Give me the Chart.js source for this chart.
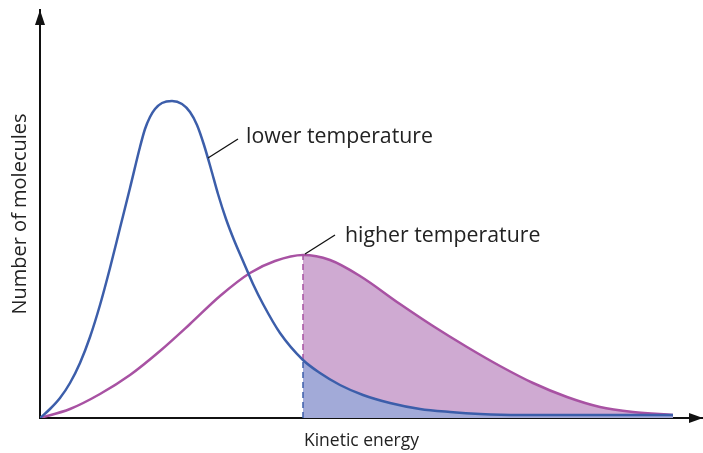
<!DOCTYPE html>
<html>
<head>
<meta charset="utf-8">
<script src="https://cdn.jsdelivr.net/npm/chart.js@4/dist/chart.umd.min.js"></script>
<style>
  html, body { margin: 0; padding: 0; background: #fff; }
</style>
</head>
<body>
<canvas id="myChart" width="703" height="453"></canvas>
<script>
// Curves (energy units along x, molecule count along y)
const lowTempX = [0, 10, 20, 30, 40, 50, 60, 70, 80, 90, 100, 105, 110, 115, 122, 132, 142, 150, 157, 164, 171, 178, 186, 194, 203, 213, 223, 240, 263, 280, 300, 323, 350, 380, 410, 440, 480, 560, 633];
const lowTempY = [0, 9, 20, 35, 55, 81, 113, 150, 190, 230, 271, 289, 301, 309, 315, 317, 314, 306, 293, 273, 249, 224, 199, 178, 157, 134, 114, 85, 58, 45, 33, 23, 15, 9, 6, 4, 3, 3, 3];

const highTempX = [0, 30, 60, 90, 120, 150, 180, 210, 235, 263, 290, 320, 360, 393, 427, 460, 493, 527, 560, 593, 633];
const highTempY = [0, 9, 24, 43, 67, 94, 122, 145, 157, 163, 158, 142, 114, 92, 71, 52, 35, 21, 11, 6, 3];

// energy where the shaded region starts
const cutoff = 263;

// curve labels: text, where the leader line starts (on the curve), where it ends
const labelText = ["lower temperature", "higher temperature"];
const labelFrom = [[168, 260], [265, 164]];
const labelTo = [[198, 279], [295, 183]];

const blueLine = "rgb(60, 94, 170)";
const purpleLine = "rgb(168, 82, 163)";
const blueFill = "rgb(162, 170, 216)";
const purpleFill = "rgb(207, 170, 210)";

function toPoints(xs, ys) {
  return xs.map((x, i) => ({ x: x, y: ys[i] }));
}

const lowPts = toPoints(lowTempX, lowTempY);
const highPts = toPoints(highTempX, highTempY);
const lowTail = lowPts.filter((p) => p.x >= cutoff);
const highTail = highPts.filter((p) => p.x >= cutoff);
const lowAtCut = lowTail[0].y;
const highAtCut = highTail[0].y;

// Arrows on the axes, x axis title and the curve labels
const extras = {
  id: "extras",
  afterDraw(chart) {
    const ctx = chart.ctx;
    const a = chart.chartArea;
    const xs = chart.scales.x;
    const ys = chart.scales.y;
    ctx.save();
    ctx.fillStyle = "#111";
    // y arrow
    ctx.beginPath();
    ctx.moveTo(a.left, a.top);
    ctx.lineTo(a.left - 5, a.top + 15);
    ctx.lineTo(a.left + 5, a.top + 15);
    ctx.closePath();
    ctx.fill();
    // x arrow
    ctx.beginPath();
    ctx.moveTo(a.right, a.bottom);
    ctx.lineTo(a.right - 14, a.bottom - 5);
    ctx.lineTo(a.right - 14, a.bottom + 5);
    ctx.closePath();
    ctx.fill();

    ctx.fillStyle = "#222";
    ctx.textBaseline = "middle";
    ctx.textAlign = "center";
    ctx.font = '17.5px "Open Sans"';
    ctx.fillText("Kinetic energy", (a.left + a.right) / 2 - 10, a.bottom + 23);

    // labels
    ctx.strokeStyle = "#111";
    ctx.lineWidth = 1.3;
    ctx.font = '21.3px "Open Sans"';
    ctx.textAlign = "left";
    labelText.forEach((t, i) => {
      const x1 = xs.getPixelForValue(labelFrom[i][0]);
      const y1 = ys.getPixelForValue(labelFrom[i][1]);
      const x2 = xs.getPixelForValue(labelTo[i][0]);
      const y2 = ys.getPixelForValue(labelTo[i][1]);
      ctx.beginPath();
      ctx.moveTo(x1, y1);
      ctx.lineTo(x2, y2);
      ctx.stroke();
      ctx.fillText(t, x2 + 8 + 2 * i, y2 - 2 + 3 * i);
    });
    ctx.restore();
  },
};

const ctx = document.querySelector("#myChart").getContext("2d");

const myChart = new Chart(ctx, {
  type: "line",
  data: {
    datasets: [
      {
        data: lowPts,
        borderColor: blueLine,
        borderWidth: 2.5,
        pointRadius: 0,
        fill: false,
        cubicInterpolationMode: "monotone",
        order: 0,
      },
      {
        data: highPts,
        borderColor: purpleLine,
        borderWidth: 2.5,
        pointRadius: 0,
        fill: false,
        cubicInterpolationMode: "monotone",
        order: 1,
      },
      {
        // dashed edge, purple part
        data: [{ x: cutoff, y: lowAtCut }, { x: cutoff, y: highAtCut }],
        borderColor: purpleLine,
        borderWidth: 1.5,
        borderDash: [6, 4],
        pointRadius: 0,
        tension: 0,
        fill: false,
        order: 2,
      },
      {
        // dashed edge, blue part
        data: [{ x: cutoff, y: 0 }, { x: cutoff, y: lowAtCut }],
        borderColor: blueLine,
        borderWidth: 1.5,
        borderDash: [6, 4],
        pointRadius: 0,
        tension: 0,
        fill: false,
        order: 3,
      },
      {
        data: lowTail,
        borderWidth: 0,
        borderColor: "rgba(0,0,0,0)",
        backgroundColor: blueFill,
        pointRadius: 0,
        fill: "origin",
        cubicInterpolationMode: "monotone",
        order: 4,
      },
      {
        data: highTail,
        borderWidth: 0,
        borderColor: "rgba(0,0,0,0)",
        backgroundColor: purpleFill,
        pointRadius: 0,
        fill: "origin",
        cubicInterpolationMode: "monotone",
        order: 5,
      },
    ],
  },
  options: {
    responsive: false,
    animation: false,
    devicePixelRatio: 1,
    layout: {
      padding: { top: 10, right: 0, bottom: 0, left: 0 },
    },
    scales: {
      x: {
        type: "linear",
        min: 0,
        max: 663,
        grid: { display: false, drawTicks: false },
        ticks: { display: false },
        border: { color: "#111", width: 2 },
        afterFit: (s) => {
          s.height = 35;
        },
      },
      y: {
        min: 0,
        max: 408,
        grid: { display: false, drawTicks: false },
        ticks: { display: false },
        border: { color: "#111", width: 2 },
        title: {
          display: true,
          text: "Number of molecules",
          color: "#222",
          font: { family: "Open Sans", size: 20 },
          padding: { top: 8, bottom: 0 },
        },
        afterFit: (s) => {
          s.width = 40;
        },
      },
    },
    plugins: {
      legend: { display: false },
      tooltip: { enabled: false },
    },
  },
  plugins: [extras],
});
</script>
</body>
</html>
